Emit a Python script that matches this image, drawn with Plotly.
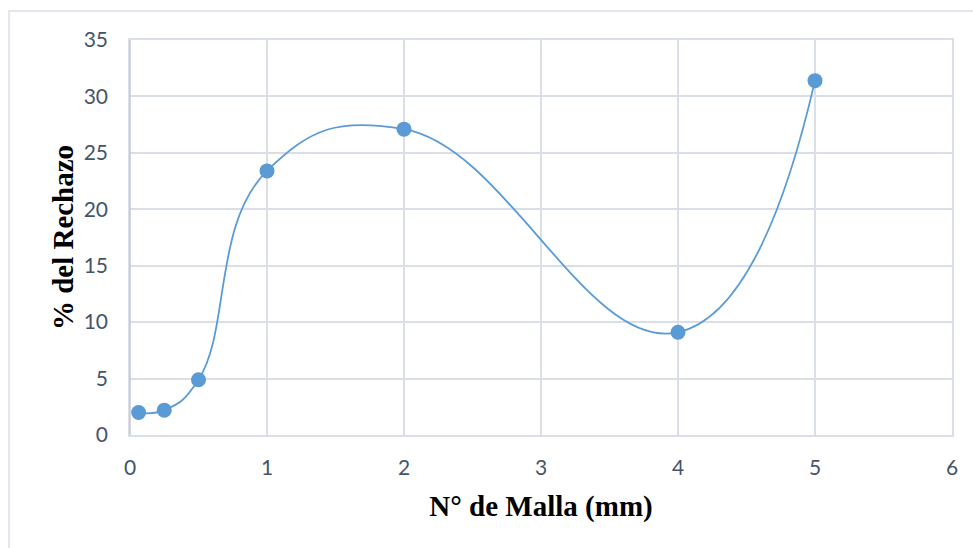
import plotly.graph_objects as go

# Sieve opening (mm) and retained percentage
malla_mm = [0.063, 0.25, 0.5, 1, 2, 4, 5]
rechazo_pct = [2.0, 2.2, 4.9, 23.4, 27.1, 9.1, 31.4]

x_ticks = [0, 1, 2, 3, 4, 5, 6]
y_ticks = [0, 5, 10, 15, 20, 25, 30, 35]

W, H = 973, 548
ML, MR, MT, MB = 130, 21, 40, 113
PW = W - ML - MR
PH = H - MT - MB

BLUE = "#5B9BD5"
GRID = "#DADFE7"
TICK_FONT = dict(family="Lato", size=21, color="#44546A")
TITLE_FONT = dict(family="Liberation Serif", size=29, color="#000000")

fig = go.Figure(
    go.Scatter(
        x=malla_mm,
        y=rechazo_pct,
        mode="lines+markers",
        line=dict(color=BLUE, width=1.8, shape="spline", smoothing=1.3),
        marker=dict(color=BLUE, size=15, line=dict(color=BLUE, width=0)),
        showlegend=False,
    )
)

fig.update_layout(
    width=W,
    height=H,
    margin=dict(l=ML, r=MR, t=MT, b=MB),
    paper_bgcolor="white",
    plot_bgcolor="white",
    xaxis=dict(
        range=[0, 6],
        tickvals=x_ticks,
        ticktext=[str(v) for v in x_ticks],
        showgrid=True,
        gridcolor=GRID,
        gridwidth=1.5,
        zeroline=False,
        showline=True,
        linecolor=GRID,
        linewidth=1.5,
        mirror=True,
        ticks="outside",
        ticklen=13,
        tickcolor="rgba(0,0,0,0)",
        tickfont=TICK_FONT,
        title=dict(text="<b>N° de Malla (mm)</b>", font=TITLE_FONT, standoff=18),
    ),
    yaxis=dict(
        range=[0, 35],
        tickvals=y_ticks,
        ticktext=[str(v) for v in y_ticks],
        showgrid=True,
        gridcolor=GRID,
        gridwidth=1.5,
        zeroline=False,
        showline=True,
        linecolor=GRID,
        linewidth=1.5,
        mirror=True,
        ticks="outside",
        ticklen=16,
        tickcolor="rgba(0,0,0,0)",
        tickfont=TICK_FONT,
        title=dict(text="<b>% del Rechazo</b>", font=TITLE_FONT, standoff=2),
    ),
)

# Left axis line drawn slightly darker, like the value axis
fig.add_shape(
    type="line", xref="paper", yref="paper",
    x0=0, x1=0, y0=0, y1=1,
    line=dict(color="#C3CAD6", width=1.5),
)

# Outer chart frame (top and left edges visible)
fx0 = (9 - ML) / PW
fy1 = (H - MB - 11) / PH
fig.add_shape(
    type="rect", xref="paper", yref="paper",
    x0=fx0, x1=fx0 + 2.0, y0=fy1 - 2.0, y1=fy1,
    line=dict(color="#DADFE7", width=1.5),
    fillcolor="rgba(0,0,0,0)",
    layer="below",
)

fig.write_html("out.html")
